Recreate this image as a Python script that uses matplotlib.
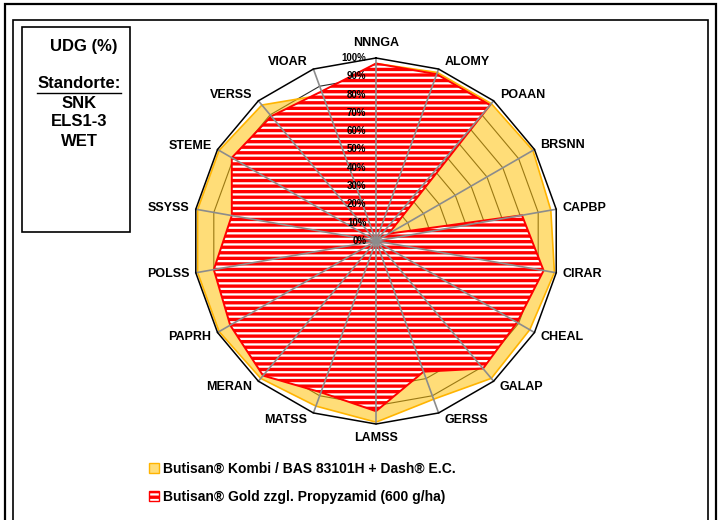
import numpy as np
import matplotlib
matplotlib.use("Agg")
from matplotlib import pyplot as plt
from matplotlib.patches import Patch, Rectangle
from matplotlib.lines import Line2D

categories = ["NNNGA", "ALOMY", "POAAN", "BRSNN", "CAPBP", "CIRAR", "CHEAL", "GALAP", "GERSS",
              "LAMSS", "MATSS", "MERAN", "PAPRH", "POLSS", "SSYSS", "STEME", "VERSS", "VIOAR"]
kombi = [97, 98, 98, 99, 97, 99, 97, 98, 92, 99, 96, 98, 99, 99, 99, 99, 97, 85]
gold = [97, 97, 97, 8, 81, 93, 89, 91, 76, 93, 88, 96, 92, 90, 80, 91, 89, 87]
ring_levels = [10, 20, 30, 40, 50, 60, 70, 80, 90, 100]
tick_levels = [0, 10, 20, 30, 40, 50, 60, 70, 80, 90, 100]
tick_labels = ["0%", "10%", "20%", "30%", "40%", "50%", "60%", "70%", "80%", "90%", "100%"]
legend_labels = ["Butisan\u00ae Kombi / BAS 83101H + Dash\u00ae E.C.",
                 "Butisan\u00ae Gold zzgl. Propyzamid (600 g/ha)"]
box_lines = ["UDG (%)", "Standorte:", "SNK", "ELS1-3", "WET"]

plt.rcParams['font.family'] = ['Liberation Sans', 'DejaVu Sans']
plt.rcParams['hatch.linewidth'] = 2.4

W, H = 720, 520
fig = plt.figure(figsize=(7.2, 5.2), dpi=100)
cx, cy, R = 376, 241, 183
ax = fig.add_axes([(cx - R) / W, (H - cy - R) / H, 2 * R / W, 2 * R / H], projection='polar')
ax.set_theta_offset(np.pi / 2)
ax.set_theta_direction(-1)
ax.set_ylim(0, 100)
ax.axis('off')

n = len(categories)
theta = np.arange(n) * 2 * np.pi / n
closed = np.append(theta, theta[0])

# rings
for lv in ring_levels:
    if lv == 100:
        ax.plot(closed, [lv] * (n + 1), color='black', lw=1.1, zorder=6, clip_on=False)
    else:
        ax.plot(closed, [lv] * (n + 1), color='#2a2a2a', lw=0.8, zorder=1, clip_on=False)

# series
yellow = (1.0, 0.75, 0.0, 0.53)
ax.fill(closed, kombi + kombi[:1], facecolor=yellow, edgecolor='#FFB400', lw=1.2, zorder=2, clip_on=False)
ax.fill(closed, gold + gold[:1], facecolor='white', edgecolor='red', hatch='---', lw=1.4, zorder=3, clip_on=False)

# spokes
for t in theta:
    ax.plot([t, t], [0, 100], color='#8c8c8c', lw=1.2, zorder=4, clip_on=False)

# percent labels
for lv, lab in zip(tick_levels, tick_labels):
    ax.annotate(lab, xy=(0, lv), xytext=(-7, 0), textcoords='offset points',
                ha='right', va='center', fontsize=7, fontweight='bold', zorder=7)

# category labels
px = 0.72
for t, name in zip(theta, categories):
    s, c = np.sin(t), np.cos(t)
    if abs(s) < 0.01:
        ha = 'center'
        off = (0, 15 * px if c > 0 else -14 * px)
    else:
        ha = 'left' if s > 0 else 'right'
        off = (6 * px * np.sign(s), 8 * px * c)
    ax.annotate(name, xy=(t, 100), xytext=off, textcoords='offset points',
                ha=ha, va='center', fontsize=9, fontweight='bold', annotation_clip=False)

# legend
handles = [Patch(facecolor=yellow, edgecolor='#FFB400'),
           Patch(facecolor='white', edgecolor='red', hatch='---')]
fig.legend(handles, legend_labels, loc='upper left', bbox_to_anchor=(149 / W, 1 - 462 / H),
           frameon=False, prop={'weight': 'bold', 'size': 10}, handlelength=0.75,
           handleheight=0.75, handletextpad=0.25, labelspacing=1.0, borderpad=0, borderaxespad=0)

# frames
fig.patches.append(Rectangle((5 / W, -0.05), 711 / W, 1.05 - 4 / H, fill=False, lw=1.6,
                             ec='black', transform=fig.transFigure))
fig.patches.append(Rectangle((13 / W, -0.05), 695 / W, 1.05 - 20 / H, fill=False, lw=1.2,
                             ec='black', transform=fig.transFigure))
fig.patches.append(Rectangle((22 / W, 1 - 232 / H), 108 / W, 205 / H, fill=False, lw=1.2,
                             ec='black', transform=fig.transFigure))

ys = [47, 84, 103, 122, 142]
xs = [84, 79, 79, 79, 79]
txts = []
for x, y, line in zip(xs, ys, box_lines):
    txts.append(fig.text(x / W, 1 - y / H, line, ha='center', va='center',
                         fontsize=12, fontweight='bold'))

# underline "Standorte:"
fig.canvas.draw()
bb = txts[1].get_window_extent()
fig.lines.append(Line2D([bb.x0 / fig.bbox.width, bb.x1 / fig.bbox.width],
                        [(bb.y0 - 1) / fig.bbox.height] * 2, color='black', lw=1.0,
                        transform=fig.transFigure))

fig.savefig("out.png", dpi=100)
